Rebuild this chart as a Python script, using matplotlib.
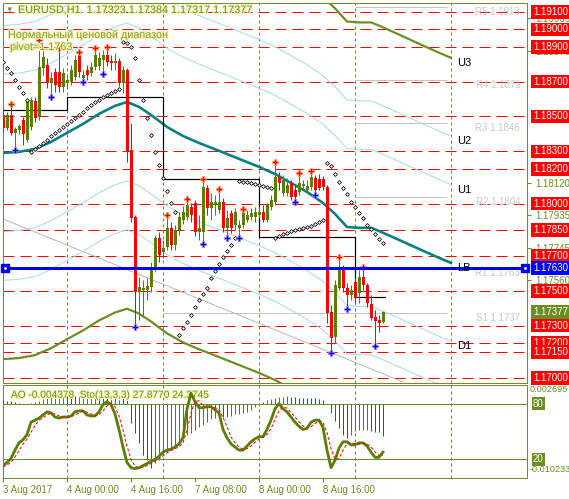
import numpy as np
import matplotlib
matplotlib.use('Agg')
import matplotlib.pyplot as plt
import matplotlib.patheffects as pe
from matplotlib.transforms import blended_transform_factory

# ---------------- data ----------------
opens = [1.18509,1.18434,1.18509,1.18406,1.18423,1.18480,1.18365,1.18440,1.18589,1.18497,
         1.18779,1.18796,1.18692,1.18756,1.18756,1.18670,1.18692,1.18698,1.18727,1.18853,
         1.18721,1.18767,1.18750,1.18784,1.18790,1.18824,1.18853,1.18819,1.18807,1.18819,
         1.18692,1.18767,1.18308,1.17924,1.17493,1.17505,1.17505,1.17522,1.17631,1.17803,
         1.17723,1.17752,1.17861,1.17763,1.17849,1.17907,1.17924,1.17981,1.18004,1.17838,
         1.17838,1.18090,1.17975,1.17993,1.17964,1.18010,1.17861,1.17947,1.17878,1.17861,
         1.17878,1.17907,1.17924,1.17924,1.17935,1.17952,1.17907,1.17981,1.18010,1.18153,
         1.18061,1.18061,1.18119,1.18079,1.18067,1.18102,1.18079,1.18096,1.18147,1.18142,
         1.18142,1.18096,1.17379,1.17235,1.17516,1.17631,1.17516,1.17476,1.17551,1.17488,
         1.17580,1.17534,1.17425,1.17350,1.17333,1.17323]
highs = [1.18538,1.18526,1.18561,1.18440,1.18457,1.18497,1.18595,1.18612,1.18612,1.18928,
         1.18882,1.18836,1.18756,1.18779,1.18882,1.18779,1.18738,1.18796,1.18853,1.18859,
         1.18767,1.18796,1.18813,1.18882,1.18870,1.18882,1.18888,1.18853,1.18865,1.18836,
         1.18790,1.18779,1.18463,1.17935,1.17580,1.17562,1.17574,1.17666,1.17820,1.17838,
         1.17792,1.17924,1.17895,1.17878,1.17952,1.17987,1.18015,1.18004,1.18021,1.17935,
         1.18130,1.18107,1.18061,1.18050,1.18073,1.18033,1.17964,1.17964,1.17975,1.17907,
         1.17958,1.17964,1.17975,1.17981,1.17981,1.17993,1.18004,1.18050,1.18228,1.18182,
         1.18165,1.18147,1.18136,1.18107,1.18165,1.18136,1.18136,1.18176,1.18165,1.18170,
         1.18159,1.18107,1.17419,1.17562,1.17683,1.17648,1.17545,1.17534,1.17574,1.17620,
         1.17625,1.17545,1.17476,1.17390,1.17361,1.17384]
lows = [1.18411,1.18423,1.18394,1.18320,1.18400,1.18337,1.18354,1.18423,1.18469,1.18480,
        1.18738,1.18664,1.18624,1.18641,1.18641,1.18641,1.18664,1.18681,1.18710,1.18727,
        1.18710,1.18710,1.18733,1.18767,1.18767,1.18756,1.18790,1.18767,1.18767,1.18675,
        1.18635,1.18239,1.17895,1.17304,1.17333,1.17350,1.17448,1.17493,1.17608,1.17666,
        1.17689,1.17734,1.17734,1.17734,1.17820,1.17884,1.17907,1.17895,1.17815,1.17792,
        1.17780,1.17935,1.17907,1.17935,1.17947,1.17838,1.17815,1.17832,1.17849,1.17815,
        1.17861,1.17895,1.17907,1.17895,1.17918,1.17895,1.17895,1.17964,1.17993,1.18079,
        1.18044,1.18044,1.18021,1.18021,1.18050,1.18079,1.18061,1.18079,1.18061,1.18079,
        1.18079,1.17316,1.17155,1.17201,1.17505,1.17493,1.17407,1.17448,1.17430,1.17430,
        1.17505,1.17407,1.17333,1.17195,1.17264,1.17317]
closes = [1.18434,1.18509,1.18406,1.18429,1.18446,1.18400,1.18583,1.18595,1.18492,1.18784,
          1.18842,1.18692,1.18721,1.18681,1.18670,1.18750,1.18710,1.18767,1.18824,1.18756,
          1.18738,1.18738,1.18784,1.18853,1.18836,1.18853,1.18813,1.18807,1.18819,1.18692,
          1.18767,1.18297,1.17918,1.17493,1.17522,1.17516,1.17528,1.17637,1.17803,1.17706,
          1.17746,1.17861,1.17763,1.17849,1.17924,1.17952,1.17993,1.17935,1.17838,1.17861,
          1.18096,1.17975,1.18010,1.18010,1.18010,1.17861,1.17918,1.17861,1.17952,1.17878,
          1.17947,1.17935,1.17947,1.17952,1.17952,1.17907,1.17993,1.18021,1.18153,1.18119,
          1.18136,1.18107,1.18038,1.18038,1.18119,1.18113,1.18102,1.18153,1.18079,1.18090,
          1.18096,1.17373,1.17230,1.17534,1.17631,1.17516,1.17476,1.17505,1.17459,1.17580,
          1.17534,1.17430,1.17344,1.17327,1.17316,1.17377]

sar = [1.18813,1.18779,1.18750,1.18710,1.18670,1.18635,1.18595,1.18297,1.18314,1.18331,
       1.18348,1.18365,1.18388,1.18406,1.18423,1.18440,1.18457,1.18474,1.18492,1.18509,
       1.18526,1.18549,1.18566,1.18583,1.18595,1.18612,1.18624,1.18635,1.18647,1.18658,
       1.18928,1.18922,1.18899,1.18836,1.18710,1.18595,1.18492,1.18394,1.18297,1.18222,
       1.18147,1.18073,1.18004,1.17952,1.17247,1.17287,1.17321,1.17361,1.17407,1.17448,
       1.17482,1.17516,1.17574,1.17614,1.17654,1.17694,1.17729,1.17763,1.17803,1.18130,
       1.18124,1.18124,1.18119,1.18113,1.18107,1.18102,1.18096,1.18090,1.17803,1.17815,
       1.17826,1.17832,1.17843,1.17849,1.17855,1.17861,1.17866,1.17872,1.17884,1.17895,
       1.17907,1.18234,1.18216,1.18170,1.18124,1.18090,1.18056,1.18010,1.17981,1.17947,
       1.17918,1.17878,1.17855,1.17826,1.17797,1.17775]

fractal_up = [2, 9, 14, 19, 23, 26, 41, 46, 50, 54, 60, 68, 74, 77, 84, 90]
fractal_dn = [3, 12, 20, 25, 33, 50, 56, 59, 73, 78, 82, 86, 93]

ma_idx = [0,4,8,12,16,20,24,28,31,34,37,41,45,49,54,59,64,68,72,76,80,83,86,89,92,94,99,104,109,112]
ma_val = [1.18291,1.18297,1.18314,1.18354,1.18406,1.18457,1.18515,1.18561,1.18583,1.18555,
          1.18509,1.18440,1.18388,1.18348,1.18303,1.18257,1.18211,1.18170,1.18119,1.18067,
          1.18004,1.17941,1.17866,1.17861,1.17861,1.17843,1.17792,1.17740,1.17689,1.17660]
env_pcts = [0.382, 0.618, 1.0]          # envelope percentages around the MA
env_labels = {0.382: ('U1', 'D1'), 0.618: ('U2', None), 1.0: ('U3', None)}

step_idx = [0, 16, 40, 64, 88, 95.5]
step_val = [1.18538, 1.18612, 1.18142, 1.17809, 1.17465, 1.17465]

trend_idx = [0, 100]
trend_val = [1.17912, 1.16977]

red_levels = [1.19100, 1.19000, 1.18900, 1.18700, 1.18500, 1.18300, 1.18200, 1.18000,
              1.17850, 1.17700, 1.17500, 1.17300, 1.17200, 1.17150, 1.17000]
blue_level = 1.17630
pivot_names = ['R5', 'R4', 'R3', 'R2', 'R1', 'S1']
pivot_vals = [1.1913, 1.1871, 1.1846, 1.1804, 1.1763, 1.1737]
pivot_start = [88, 88, 88, 88, 88, 40]
price_ticks = [1.19065, 1.18875, 1.18120, 1.17935, 1.17745, 1.17560]

day_separators = [16, 40, 64, 88, 112]
time_ticks = [0, 16, 32, 48, 64, 80]
time_labels = ['3 Aug 2017', '4 Aug 00:00', '4 Aug 16:00', '7 Aug 08:00', '8 Aug 00:00', '8 Aug 16:00']

ao = [0.00055,0.00050,0.00045,0.00035,0.00020,0.00010,0.00005,0.00015,0.00030,0.00050,
      0.00070,0.00090,0.00105,0.00115,0.00120,0.00125,0.00120,0.00115,0.00110,0.00115,
      0.00120,0.00125,0.00130,0.00135,0.00130,0.00125,0.00120,0.00125,0.00130,0.00135,
      0.00110,0.00070,-0.00255,-0.00397,-0.00540,-0.00710,-0.00780,-0.00880,-0.00820,-0.00780,
      -0.00710,-0.00660,-0.00610,-0.00560,-0.00520,-0.00470,-0.00430,-0.00400,-0.00350,-0.00310,
      -0.00280,-0.00240,-0.00210,-0.00190,-0.00160,-0.00170,-0.00180,-0.00160,-0.00140,-0.00130,
      -0.00120,-0.00100,-0.00080,-0.00040,0.00010,0.00040,0.00060,0.00080,0.00090,0.00100,
      0.00105,0.00110,0.00105,0.00100,0.00095,0.00090,0.00088,0.00085,0.00082,0.00078,
      0.00065,0.00010,-0.00118,-0.00236,-0.00330,-0.00425,-0.00470,-0.00425,-0.00364,-0.00355,
      -0.00353,-0.00352,-0.00365,-0.00380,-0.00390,-0.004378]
stoch_main = [13.3,16.7,21.1,30.0,37.8,41.1,46.7,60.0,62.2,64.4,
              67.8,71.1,70.0,65.6,64.4,65.6,65.6,66.7,71.1,72.2,
              72.2,67.8,66.7,66.7,71.1,78.9,82.2,78.9,68.9,52.2,
              33.3,16.7,11.1,10.0,11.1,13.3,15.6,17.8,20.0,23.3,
              27.8,30.0,31.1,33.3,36.7,43.3,74.4,91.1,82.2,75.6,
              75.6,76.7,76.7,73.3,70.0,52.2,43.3,36.7,33.3,30.0,
              30.0,34.4,38.9,42.2,44.4,44.4,52.2,62.2,74.4,80.0,
              74.4,71.1,65.6,60.0,55.6,52.2,53.3,60.0,62.2,62.2,
              54.4,30.0,11.1,18.9,32.2,38.9,38.9,35.6,35.6,37.8,
              37.8,34.4,27.8,22.2,22.2,27.877]
stoch_sig = [12.0,14.0,17.0,22.6,29.6,36.3,41.9,49.3,56.3,62.2,
             64.8,67.8,69.6,68.9,66.7,65.2,65.2,66.0,67.8,70.0,
             71.9,70.7,68.9,67.1,68.2,72.2,77.4,80.0,76.7,66.7,
             51.5,34.1,20.4,12.6,10.7,11.5,13.3,15.6,17.8,20.4,
             23.7,27.0,29.6,31.5,33.7,37.8,51.5,69.6,82.6,83.0,
             77.8,76.0,76.3,75.6,73.3,65.2,55.2,44.1,37.8,33.3,
             31.1,31.5,34.4,38.5,41.8,43.7,47.0,52.9,62.9,72.2,
             76.3,75.2,70.4,65.6,60.4,55.9,53.7,55.2,58.5,61.5,
             59.6,48.9,31.8,20.0,20.7,30.0,36.7,37.8,36.7,36.3,
             37.0,36.7,33.3,28.1,24.1,24.3745]
stoch_levels = [80, 20]
ao_range = (-0.010233, 0.002695)

title = 'EURUSD,H1  1.17323 1.17384 1.17317 1.17377'
note1 = 'Нормальный ценовой диапазон'
note2 = 'pivot=1.1763'
ind_label = 'AO -0.004378  Sto(13,3,3) 27.8770 24.3745'

# ---------------- style ----------------
plt.rcParams['font.family'] = ['Liberation Sans', 'DejaVu Sans']
OLIVE = '#6b8e23'
BULL = '#5a7f00'
RED = '#ff0000'
LBLUE = '#a9dbe6'
TEAL = '#008080'
PX = 0.72  # points per pixel at 100 dpi

W, H = 569, 499
fig = plt.figure(figsize=(W / 100, H / 100), dpi=100)
fig.patch.set_facecolor('white')


def fx(p):
    return p / W


def fy(p):
    return 1 - p / H


L, R = 3, 527
ax = fig.add_axes([fx(L), fy(383), fx(R) - fx(L), fy(3) - fy(383)])
ax2 = fig.add_axes([fx(L), fy(478), fx(R) - fx(L), fy(385) - fy(478)])
ax3 = ax2.twinx()

for a in (ax, ax2):
    a.set_xlim(0, 131)
    for s in a.spines.values():
        s.set_color(OLIVE)
        s.set_linewidth(PX)
ax.set_ylim(1.16971, 1.19151)
ax2.set_ylim(*ao_range)
ax3.set_ylim(0, 100)
ax3.set_axis_off()

idx = np.arange(len(opens))
o = np.array(opens); h = np.array(highs); l = np.array(lows); c = np.array(closes)

# red dashed levels
for lv in red_levels:
    ax.axhline(lv, color=RED, lw=PX, linestyle=(0, (11, 6)), zorder=1)

# day separators
for d in day_separators:
    for a in (ax, ax2):
        a.axvline(d, color=OLIVE, lw=PX, linestyle=(0, (3, 3)), zorder=1)

# trend line
ax.plot(trend_idx, trend_val, color='#b8b8b8', lw=PX, zorder=2)

# envelopes
ma = np.array(ma_val)
for p in env_pcts:
    up_line = ma * (1 + p / 100)
    dn_line = ma * (1 - p / 100)
    if p == 1.0:
        ax.plot(ma_idx, up_line, color=OLIVE, lw=2.2 * PX, zorder=2)
        ax.plot(ma_idx, dn_line, color=OLIVE, lw=2.2 * PX, zorder=2)
    else:
        ax.plot(ma_idx, up_line, color=LBLUE, lw=PX, zorder=2)
        ax.plot(ma_idx, dn_line, color=LBLUE, lw=PX, zorder=2)
    ulab, dlab = env_labels[p]
    if ulab:
        ax.text(113.6, up_line[-1], ulab, ha='left', va='top', fontsize=8, color='black', zorder=9)
    if dlab:
        ax.text(113.6, dn_line[-1], dlab, ha='left', va='top', fontsize=8, color='black', zorder=9)

# MA
ax.plot(ma_idx, ma, color=TEAL, lw=2.6 * PX, zorder=3)
ax.text(113.6, ma[-1], 'LB', ha='left', va='top', fontsize=8, color='black', zorder=9)

# pivots
for name, v, st in zip(pivot_names, pivot_vals, pivot_start):
    ax.hlines(v, st, 111, color='#c4c4c4', lw=PX, zorder=2)
    ax.text(129.3, v, f'{name} {v:.4f}', ha='right', va='top', fontsize=7, color='#c8c8c8', zorder=2)

# step line
ax.plot(step_idx, step_val, color='black', lw=PX * 1.2, drawstyle='steps-post', zorder=3)

# candles
col = np.where(c >= o, BULL, RED)
ax.vlines(idx, l, h, colors=col, lw=PX, zorder=4)
bottom = np.minimum(o, c)
height = np.maximum(np.abs(c - o), 0.00004)
ax.bar(idx, height, bottom=bottom, width=0.75, color=col, edgecolor='none', linewidth=0, zorder=5)

# parabolic SAR
ax.plot(idx, sar, linestyle='none', marker='D', ms=2.0, mfc='white', mec='black', mew=0.55, zorder=6)

# fractals
fu = np.array(fractal_up); fd = np.array(fractal_dn)
ax.plot(fu, h[fu] + 0.00010, linestyle='none', marker='P', ms=4.3, mfc=RED, mec='#ffa060', mew=0.5, zorder=7)
ax.plot(fd, l[fd] - 0.00010, linestyle='none', marker='P', ms=4.3, mfc='#0000ff', mec='#a080ff', mew=0.5, zorder=7)

# blue level
ax.axhline(blue_level, color='#0000ff', lw=3 * PX, zorder=8)
ax.plot([0.6, 130.4], [blue_level, blue_level], linestyle='none', marker='s', ms=6, color='#0000ff', zorder=9, clip_on=False)
ax.plot([0.6, 130.4], [blue_level, blue_level], linestyle='none', marker='.', ms=2, color='white', zorder=10, clip_on=False)

# right price axis
ax.yaxis.tick_right()
ax.set_yticks(price_ticks)
ax.set_yticklabels([f'{t:.5f}' for t in price_ticks])
ax.tick_params(axis='y', colors=OLIVE, labelcolor=OLIVE, labelsize=7, length=3, width=PX, pad=3)
ax.set_xticks([])

trR = blended_transform_factory(ax.transAxes, ax.transData)
xlab = 1.0 + 6 / 524
for lv in red_levels:
    ax.text(xlab, lv, f'{lv:.5f}', transform=trR, ha='left', va='center', fontsize=7, color='white',
            bbox=dict(boxstyle='square,pad=0.18', fc=RED, ec='none'), clip_on=False, zorder=20)
ax.text(xlab, blue_level, f'{blue_level:.5f}', transform=trR, ha='left', va='center', fontsize=7, color='white',
        bbox=dict(boxstyle='square,pad=0.18', fc='#0000ff', ec='none'), clip_on=False, zorder=20)
ax.text(xlab, closes[-1], f'{closes[-1]:.5f}', transform=trR, ha='left', va='center', fontsize=7, color='white',
        bbox=dict(boxstyle='square,pad=0.18', fc=OLIVE, ec='none'), clip_on=False, zorder=20)

# texts top-left
glow = [pe.withStroke(linewidth=1.8, foreground='#f4f4b8')]
fig.text(fx(5), fy(10), '▼', fontsize=5.5, color=OLIVE, va='center', ha='left')
fig.text(fx(18), fy(10), title, fontsize=7.8, color=OLIVE, va='center', ha='left', path_effects=glow)
fig.text(fx(8), fy(35), note1, fontsize=7.8, color='#8a9a30', va='center', ha='left', path_effects=glow)
fig.text(fx(10), fy(47), note2, fontsize=7.8, color='#8a9a30', va='center', ha='left', path_effects=glow)

# ---------------- indicator panel ----------------
aov = np.array(ao)
ao_col = [RED] + [BULL if aov[i] > aov[i - 1] else RED for i in range(1, len(aov))]
ax2.vlines(idx, 0, aov, colors=ao_col, lw=PX, zorder=3)
for lv in stoch_levels:
    ax3.axhline(lv, color=OLIVE, lw=PX, zorder=2)
ax3.plot(idx, stoch_sig, color=RED, lw=PX, linestyle=(0, (3, 2)), zorder=4)
ax3.plot(idx, stoch_main, color=BULL, lw=2.8 * PX, zorder=3)
ax3.set_xlim(0, 131)

ax2.set_yticks([])
ax2.set_xticks(time_ticks)
ax2.set_xticklabels(time_labels, ha='left')
ax2.tick_params(axis='x', colors=OLIVE, labelcolor=OLIVE, labelsize=7, length=3, width=PX, pad=2)

ax2.text(8 / 524, 0.895, ind_label, transform=ax2.transAxes, fontsize=7.3, color=OLIVE,
         ha='left', va='center', path_effects=glow, zorder=10)
xlab2 = 1.0 + 3 / 524
ax2.text(xlab2, 1 - 4 / 93, f'{ao_range[1]:.6f}', transform=ax2.transAxes, fontsize=6.6, color=OLIVE,
         ha='left', va='center', clip_on=False)
ax2.text(xlab2, 1 - 85 / 93, f'{ao_range[0]:.6f}', transform=ax2.transAxes, fontsize=6.6, color=OLIVE,
         ha='left', va='center', clip_on=False)
trS = blended_transform_factory(ax3.transAxes, ax3.transData)
for lv in stoch_levels:
    ax3.text(xlab, lv, f'{lv}', transform=trS, fontsize=7, color='white', ha='left', va='center',
             bbox=dict(boxstyle='square,pad=0.15', fc=OLIVE, ec='none'), clip_on=False, zorder=20)

fig.savefig('out.png', dpi=100, facecolor='white')
